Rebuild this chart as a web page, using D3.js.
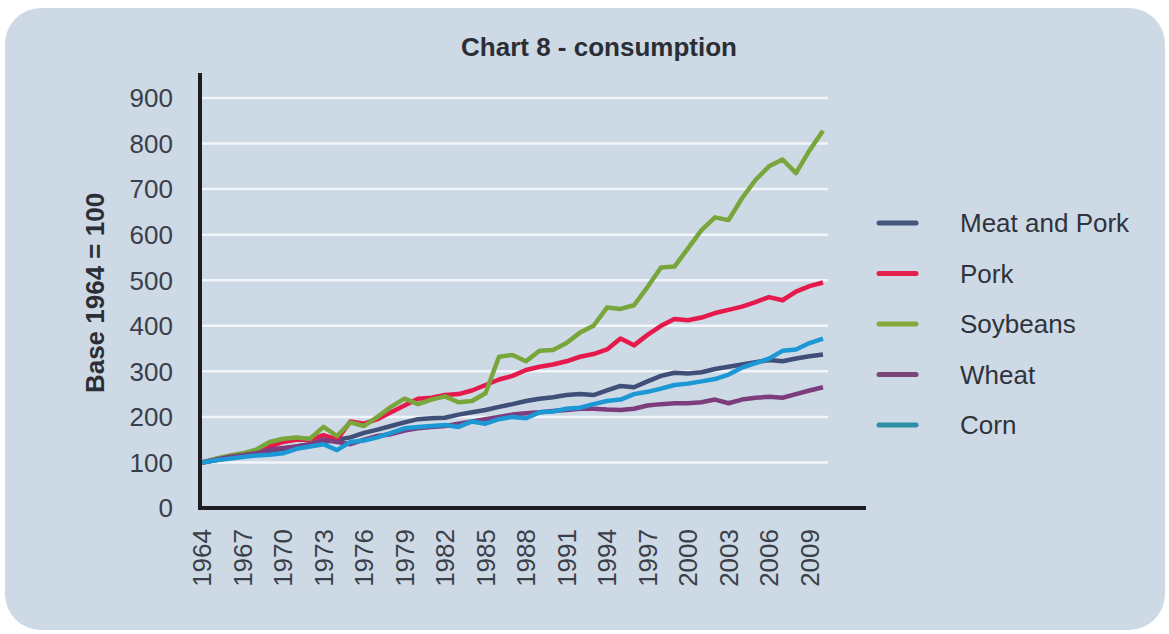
<!DOCTYPE html>
<html>
<head>
<meta charset="utf-8">
<script src="https://cdn.jsdelivr.net/npm/d3@7"></script>
<style>
  html, body { margin: 0; padding: 0; background: #fff; }
  svg { display: block; font-family: "Liberation Sans", Arial, sans-serif; }
</style>
</head>
<body>
<div id="graphicContainer"></div>
<script>
// values, base 1964 = 100
var years = d3.range(1964, 2011)
var seriesNames = ["Meat and Pork", "Pork", "Soybeans", "Wheat", "Corn"]
var seriesColours = ["#404f78", "#e5194b", "#78a63a", "#7d3d7c", "#1c98d5"]
var legendColours = ["#45577f", "#e3224f", "#86a83c", "#7a4577", "#2e8fa6"]

var meatAndPork = [100,105,110,115,120,125,130,135,140,145,150,155,165,172,180,188,195,197,198,205,210,215,222,228,235,240,243,248,250,248,258,268,265,278,290,297,295,298,305,310,315,320,325,322,328,333,337]
var pork = [100,107,113,118,125,135,145,150,150,160,150,190,185,195,210,225,240,242,248,250,258,270,282,290,303,310,315,322,332,338,348,372,357,380,400,415,412,418,428,435,442,452,463,456,475,487,495]
var soybeans = [100,108,115,120,128,145,152,155,152,178,158,188,180,200,222,240,228,238,245,232,235,252,332,336,322,345,347,362,385,400,440,437,445,485,528,530,570,610,638,632,680,720,750,765,735,785,828]
var wheat = [100,106,112,116,120,128,132,135,140,150,145,140,150,158,162,170,175,178,180,185,190,195,200,205,208,210,213,215,218,218,216,215,218,225,228,230,230,232,238,230,238,242,244,242,250,258,265]
var corn = [100,105,108,112,115,117,120,130,135,140,127,145,148,155,165,175,178,180,182,178,190,185,195,200,197,210,212,218,220,228,235,238,250,255,262,270,273,278,283,293,308,318,328,345,348,362,372]

var yTicks = d3.range(0, 1000, 100)
var xTicks = d3.range(1964, 2010, 3)

var title = "Chart 8 - consumption"
var yTitle = "Base 1964 = 100"

function init() {

	var width = 1169
	var height = 634
	var seriesData = [meatAndPork, pork, soybeans, wheat, corn]

	var svg = d3.select("#graphicContainer").append("svg")
		.attr("width", width)
		.attr("height", height)

	// panel
	svg.append("rect")
		.attr("x", 5)
		.attr("y", 8)
		.attr("width", 1160)
		.attr("height", 622)
		.attr("rx", 36)
		.attr("fill", "#cdd9e5")

	var x = d3.scaleLinear()
		.domain([1964, 2010])
		.range([202, 823])

	var y = d3.scaleLinear()
		.domain([0, 900])
		.range([508, 98])

	// gridlines
	svg.append("g")
		.selectAll("line")
		.data(yTicks.filter(d => d > 0))
		.join("line")
		.attr("x1", 202)
		.attr("x2", 828)
		.attr("y1", d => y(d))
		.attr("y2", d => y(d))
		.attr("stroke", "#f2f6fa")
		.attr("stroke-width", 2.5)

	// y tick labels
	svg.append("g")
		.selectAll("text")
		.data(yTicks)
		.join("text")
		.attr("x", 173)
		.attr("y", d => y(d))
		.attr("dy", "0.36em")
		.attr("text-anchor", "end")
		.attr("font-size", 26)
		.attr("fill", "#3a3f49")
		.text(d => d)

	// x tick labels
	svg.append("g")
		.selectAll("text")
		.data(xTicks)
		.join("text")
		.attr("transform", d => `translate(${x(d)},529) rotate(-90)`)
		.attr("dy", "0.36em")
		.attr("text-anchor", "end")
		.attr("font-size", 26)
		.attr("fill", "#3a3f49")
		.text(d => d)

	// lines
	var line = d3.line()
		.x((d, i) => x(years[i]))
		.y(d => y(d))

	svg.append("g")
		.selectAll("path")
		.data(seriesData)
		.join("path")
		.attr("fill", "none")
		.attr("stroke", (d, i) => seriesColours[i])
		.attr("stroke-width", 4.5)
		.attr("stroke-linejoin", "round")
		.attr("d", line)

	// axes
	svg.append("line")
		.attr("x1", 200).attr("x2", 200)
		.attr("y1", 73).attr("y2", 510)
		.attr("stroke", "#1c1d20")
		.attr("stroke-width", 4)

	svg.append("line")
		.attr("x1", 198).attr("x2", 866)
		.attr("y1", 508).attr("y2", 508)
		.attr("stroke", "#1c1d20")
		.attr("stroke-width", 4)

	// titles
	svg.append("text")
		.attr("x", 599)
		.attr("y", 56)
		.attr("text-anchor", "middle")
		.attr("font-size", 26)
		.attr("font-weight", "bold")
		.attr("fill", "#2b2e35")
		.text(title)

	svg.append("text")
		.attr("transform", "translate(95,293) rotate(-90)")
		.attr("dy", "0.36em")
		.attr("text-anchor", "middle")
		.attr("font-size", 26)
		.attr("font-weight", "bold")
		.attr("fill", "#2b2e35")
		.text(yTitle)

	// legend
	var legend = svg.append("g")
		.selectAll("g")
		.data(seriesNames)
		.join("g")
		.attr("transform", (d, i) => `translate(0,${223 + i * 50.5})`)

	legend.append("line")
		.attr("x1", 879).attr("x2", 916)
		.attr("stroke", (d, i) => legendColours[i])
		.attr("stroke-width", 5)
		.attr("stroke-linecap", "round")

	legend.append("text")
		.attr("x", 960)
		.attr("dy", "0.36em")
		.attr("font-size", 26)
		.attr("fill", "#2f333b")
		.text(d => d)
}

init()
</script>
</body>
</html>
